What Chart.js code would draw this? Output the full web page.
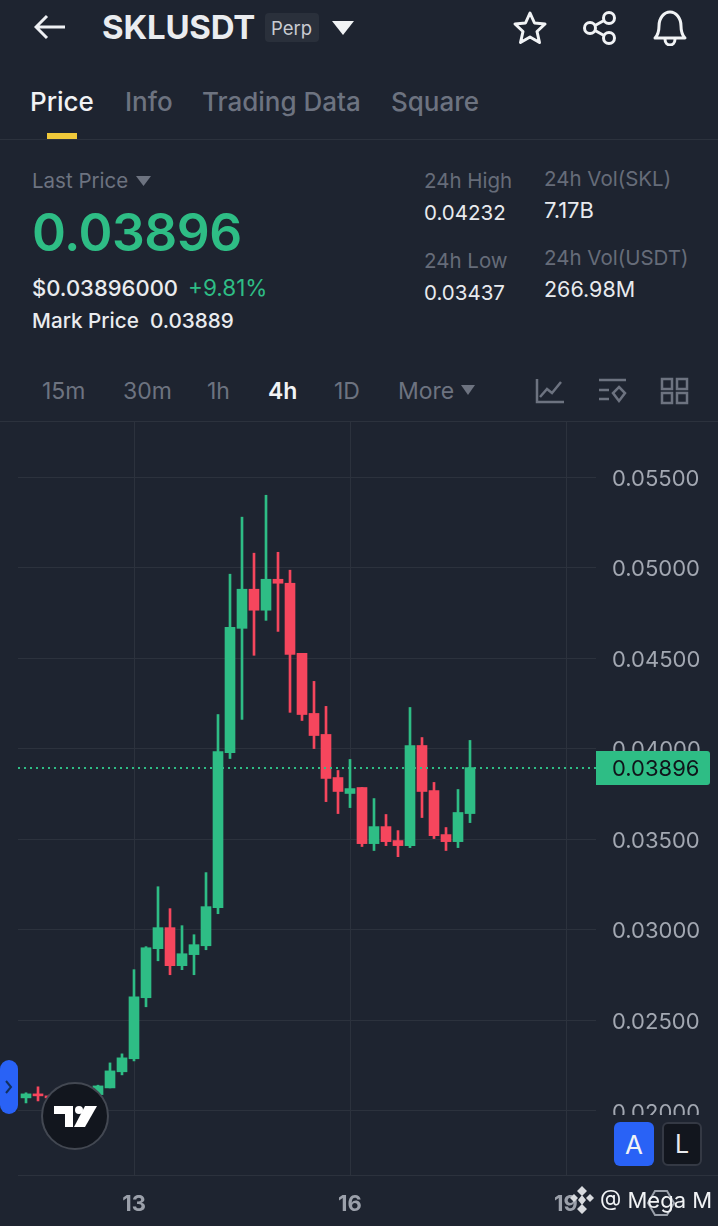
<!DOCTYPE html>
<html>
<head>
<meta charset="utf-8">
<title>SKLUSDT Perp</title>
<script src="https://cdn.jsdelivr.net/npm/chart.js@4"></script>
<style>
  html, body { margin: 0; padding: 0; background: #1e2430; }
  body { position: relative; width: 718px; height: 1226px; overflow: hidden; font-family: Inter, "Noto Sans", sans-serif; color: #eaecef; }
  canvas { position: absolute; left: 0; top: 421px; }
  .t { position: absolute; white-space: nowrap; transform: translateY(-50%); line-height: 1; }
  .grey { color: #6d7380; }
  .tab { font-size: 26px; font-weight: 500; color: #6d7380; top: 102px; }
  .tf { font-size: 23px; color: #6d7380; top: 391px; }
  .lbl { font-size: 20.5px; color: #666c79; }
  .val { font-size: 20.5px; color: #e8eaee; }
  svg, .box { position: absolute; }
</style>
</head>
<body>

<!-- header -->
<svg style="left:34px;top:14px" width="32" height="26" viewBox="0 0 32 26" fill="none" stroke="#eef0f3" stroke-width="3"><path d="M31 13H3M13 2L2 13l11 11"/></svg>
<div class="t" style="left:102px;top:27px;font-size:33px;font-weight:700;letter-spacing:-.2px">SKLUSDT</div>
<div class="box" style="left:265px;top:13px;width:54px;height:29px;background:#2a303b;border-radius:4px"></div>
<div class="t" style="left:271px;top:28px;font-size:18.5px;color:#c9ccd2">Perp</div>
<svg style="left:332px;top:20px" width="22" height="16"><path d="M0 1h22L11 15z" fill="#f1f3f5"/></svg>
<svg style="left:512px;top:10px" width="36" height="36" viewBox="0 0 36 36" fill="none" stroke="#f1f3f5" stroke-width="3" stroke-linejoin="round"><path d="M18 3l4.500 10 10.500 1-8 7.500 2.500 11L18 27l-9.500 5.500 2.500-11-8-7.500 10.500-1z"/></svg>
<svg style="left:582px;top:10px" width="36" height="36" viewBox="0 0 36 36" fill="none" stroke="#f1f3f5" stroke-width="3"><circle cx="8" cy="18" r="5.500"/><circle cx="27" cy="8" r="5.500"/><circle cx="27" cy="28" r="5.500"/><path d="M13 15.500l9-5M13 20.500l9 5"/></svg>
<svg style="left:652px;top:8px" width="36" height="38" viewBox="0 0 36 38" fill="none" stroke="#f1f3f5" stroke-width="3" stroke-linejoin="round"><path d="M3 30c3-3 4-6 4-12 0-8 5-14 11-14s11 6 11 14c0 6 1 9 4 12z"/><path d="M13 31c0 4 2.500 6 5 6s5-2 5-6"/></svg>

<div class="t tab" style="left:30px;color:#f1f3f5">Price</div>
<div class="t tab" style="left:125px">Info</div>
<div class="t tab" style="left:202px">Trading Data</div>
<div class="t tab" style="left:391px">Square</div>
<div class="box" style="left:47px;top:133px;width:30px;height:6px;background:#f0c93a"></div>
<div class="box" style="left:0;top:139px;width:718px;height:1px;background:#2c323d"></div>

<div class="t grey" style="left:32px;top:181px;font-size:20.5px">Last Price</div>
<svg style="left:136px;top:176px" width="15" height="10"><path d="M0 0h15L7.500 10z" fill="#6d7380"/></svg>
<div class="t" style="left:32px;top:233px;font-size:51.5px;font-weight:600;color:#2ebd85;letter-spacing:-.5px">0.03896</div>
<div class="t" style="left:32px;top:288px;font-size:22px;font-weight:500">$0.03896000</div>
<div class="t" style="left:188px;top:288px;font-size:22.5px;color:#2ebd85">+9.81%</div>
<div class="t" style="left:32px;top:321px;font-size:20.7px;font-weight:500">Mark Price&nbsp; 0.03889</div>

<div class="t lbl" style="left:424px;top:181px">24h High</div>
<div class="t val" style="left:424px;top:213px">0.04232</div>
<div class="t lbl" style="left:424px;top:261px">24h Low</div>
<div class="t val" style="left:424px;top:293px">0.03437</div>
<div class="t lbl" style="left:544px;top:179px">24h Vol(SKL)</div>
<div class="t val" style="left:544px;top:210px;font-size:22px">7.17B</div>
<div class="t lbl" style="left:544px;top:258px">24h Vol(USDT)</div>
<div class="t val" style="left:544px;top:290px;font-size:21.500px">266.98M</div>

<div class="t tf" style="left:42px">15m</div>
<div class="t tf" style="left:123px">30m</div>
<div class="t tf" style="left:207px">1h</div>
<div class="t tf" style="left:268px;color:#f1f3f5;font-weight:600">4h</div>
<div class="t tf" style="left:334px">1D</div>
<div class="t tf" style="left:398px">More</div>
<svg style="left:461px;top:385px" width="14" height="10"><path d="M0 0h14L7 10z" fill="#6d7380"/></svg>
<svg style="left:535px;top:376px" width="30" height="28" viewBox="0 0 30 28" fill="none" stroke="#6d7380" stroke-width="2.500"><path d="M2 3v23h27M5 21l7-8 5 4 9-11"/></svg>
<svg style="left:597px;top:377px" width="30" height="28" viewBox="0 0 30 28" fill="none" stroke="#6d7380" stroke-width="2.500"><path d="M2 3h27M2 13h10M2 22h10M22 10l6 6-6 8-6-8z"/></svg>
<svg style="left:660px;top:377px" width="29" height="28" viewBox="0 0 29 28" fill="none" stroke="#6d7380" stroke-width="2.500"><rect x="2" y="2" width="10" height="10"/><rect x="17" y="2" width="10" height="10"/><rect x="2" y="16" width="10" height="10"/><rect x="17" y="16" width="10" height="10"/></svg>

<div class="box" style="left:0;top:421px;width:718px;height:1px;background:#2c323d"></div>

<canvas id="klineChart" width="718" height="805"></canvas>

<!-- covers the bottom of the last price label like the app does -->
<div class="box" style="left:600px;top:1115px;width:118px;height:59px;background:#1e2430"></div>
<div class="box" style="left:18px;top:1175px;width:700px;height:1px;background:#2c323d"></div>

<!-- overlays on the chart -->
<div class="box" style="left:0;top:1060px;width:18px;height:54px;background:#2962f6;border-radius:9px"></div>
<svg style="left:5px;top:1080px" width="8" height="14" fill="none" stroke="#12305f" stroke-width="2"><path d="M1 1l5 6-5 6"/></svg>
<svg style="left:41px;top:1082px" width="68" height="68"><circle cx="34" cy="34" r="33" fill="#12161e" stroke="#434852" stroke-width="2"/><g fill="#fff"><path d="M13 24h19v21h-8V32H13z"/><circle cx="38" cy="28" r="4"/><path d="M44 24h12L44 45h-11z"/></g></svg>
<div class="box" style="left:614px;top:1122px;width:40px;height:44px;background:#2962f6;border-radius:6px"></div>
<div class="t" style="left:634px;top:1145px;font-size:26px;color:#f1f3f5;transform:translate(-50%,-50%)">A</div>
<div class="box" style="left:662px;top:1122px;background:#12161e;border:2px solid #343944;border-radius:6px;width:36px;height:40px"></div>
<div class="t" style="left:682px;top:1144px;font-size:25px;color:#e8eaee;transform:translate(-50%,-50%)">L</div>

<!-- watermark -->
<svg style="left:568px;top:1185px" width="28" height="30" viewBox="0 0 28 30" fill="#d8dade"><path d="M14 1l5 5-5 5-5-5zM6 9l4 4-4 4-4-4zM22 9l4 4-4 4-4-4zM14 10l4 5-4 5-4-5zM14 19l5 5-5 5-5-5z"/></svg>
<svg style="left:647px;top:1189px" width="28" height="28" viewBox="0 0 28 28" fill="none" stroke="#9aa0aa" stroke-width="2"><path d="M8 2h12l7 12-7 12H8L1 14z"/></svg>
<div class="t" style="left:600px;top:1200px;font-size:22px;color:#f1f3f5">@ Mega M</div>

<script>
// 4h candles, oldest first
const candleIndex = [0, 1, 2, 3, 4, 5, 6, 7, 8, 9, 10, 11, 12, 13, 14, 15, 16, 17, 18, 19, 20, 21, 22, 23, 24, 25, 26, 27, 28, 29, 30, 31, 32, 33, 34, 35, 36, 37];
const opens = [0.02072, 0.02094, 0.02083, 0.02072, 0.02078, 0.02086, 0.0209, 0.02127, 0.02216, 0.02288, 0.02625, 0.02896, 0.03012, 0.02802, 0.02863, 0.02912, 0.03122, 0.03979, 0.04665, 0.04881, 0.04765, 0.04936, 0.04914, 0.04527, 0.04195, 0.04079, 0.03841, 0.03753, 0.03786, 0.03476, 0.0357, 0.03493, 0.03465, 0.04018, 0.03769, 0.03526, 0.03487, 0.03642];
const closes = [0.02094, 0.02083, 0.02072, 0.02078, 0.02086, 0.0209, 0.02138, 0.02221, 0.02293, 0.0263, 0.02901, 0.03012, 0.02802, 0.02868, 0.02918, 0.03128, 0.03985, 0.04671, 0.04881, 0.04765, 0.04936, 0.04914, 0.04521, 0.04189, 0.04073, 0.03836, 0.03764, 0.0378, 0.03476, 0.0357, 0.03487, 0.03465, 0.04018, 0.03764, 0.0352, 0.03487, 0.03648, 0.03896];
const highs = [0.021, 0.02133, 0.0209, 0.02088, 0.02096, 0.02105, 0.02142, 0.02265, 0.02315, 0.0278, 0.02907, 0.03238, 0.03117, 0.03023, 0.02973, 0.03316, 0.04189, 0.04964, 0.05279, 0.0508, 0.054, 0.05085, 0.04986, 0.04527, 0.04372, 0.04234, 0.0388, 0.03941, 0.03786, 0.03725, 0.03637, 0.03548, 0.04228, 0.04062, 0.03814, 0.03565, 0.03775, 0.04046];
const lows = [0.02044, 0.02055, 0.02066, 0.02062, 0.0207, 0.02078, 0.02082, 0.02127, 0.02199, 0.02276, 0.02575, 0.02829, 0.02752, 0.0278, 0.02752, 0.0289, 0.03089, 0.03946, 0.04162, 0.04516, 0.04709, 0.04648, 0.04201, 0.04156, 0.04001, 0.03708, 0.03642, 0.03675, 0.0346, 0.03438, 0.03465, 0.03404, 0.03454, 0.0362, 0.03504, 0.03438, 0.03454, 0.03592];

const priceTicks = [0.02, 0.025, 0.03, 0.035, 0.04, 0.045, 0.05, 0.055];
const dayTickPositions = [9, 27, 45];
const dayTickLabels = ["13", "16", "19"];
const lastPrice = 0.03896;

const GREEN = "#2ebd85";
const RED = "#f6465d";
const GRID = "#2c323d";

const candleColors = opens.map((o, i) => (closes[i] >= o ? GREEN : RED));

// dotted last price line and the green tag on the axis
const lastPricePlugin = {
  id: "lastPrice",
  afterDraw(chart) {
    const c = chart.ctx;
    const y = Math.round(chart.scales.y.getPixelForValue(lastPrice));
    const area = chart.chartArea;
    c.save();
    c.strokeStyle = GREEN;
    c.lineWidth = 2;
    c.setLineDash([2, 4]);
    c.beginPath();
    c.moveTo(area.left, y);
    c.lineTo(area.right, y);
    c.stroke();
    c.setLineDash([]);
    c.fillStyle = GREEN;
    c.beginPath();
    c.roundRect(area.right, y - 17, 114, 34, [0, 3, 3, 0]);
    c.fill();
    c.fillStyle = "#10141a";
    c.font = "22px Inter";
    c.textBaseline = "middle";
    c.fillText(lastPrice.toFixed(5), 612, y + 1);
    c.restore();
  },
};

// the app's axes take no extra room for half a tick label
function noLabelPadding(axis) {
  axis.paddingTop = 0;
  axis.paddingBottom = 0;
  axis.paddingLeft = 0;
  axis.paddingRight = 0;
}

new Chart(document.getElementById("klineChart").getContext("2d"), {
  type: "bar",
  data: {
    datasets: [
      {
        data: candleIndex.map((x, i) => ({ x: x, y: [opens[i], closes[i]] })),
        backgroundColor: candleColors,
        barThickness: 10,
        grouped: false,
      },
      {
        data: candleIndex.map((x, i) => ({ x: x, y: [lows[i], highs[i]] })),
        backgroundColor: candleColors,
        barThickness: 2,
        grouped: false,
      },
    ],
  },
  plugins: [lastPricePlugin],
  options: {
    responsive: false,
    animation: false,
    layout: { padding: { left: 18, top: 0, right: 0, bottom: 0 } },
    plugins: { legend: { display: false }, tooltip: { enabled: false } },
    scales: {
      x: {
        type: "linear",
        offset: false,
        min: -0.667,
        max: 47.5,
        afterBuildTicks(axis) {
          axis.ticks = dayTickPositions.map((v) => ({ value: v }));
        },
        afterFit(axis) {
          axis.height = 51;
          noLabelPadding(axis);
        },
        grid: { color: GRID, drawTicks: false, offset: false },
        border: { display: false },
        ticks: {
          autoSkip: false,
          maxRotation: 0,
          padding: 16,
          color: "#9ba0aa",
          font: { family: "Inter", size: 22, weight: "700" },
          callback: (v) => dayTickLabels[dayTickPositions.indexOf(v)],
        },
      },
      y: {
        position: "right",
        min: 0.01646,
        max: 0.0581,
        afterBuildTicks(axis) {
          axis.ticks = priceTicks.map((v) => ({ value: v }));
        },
        afterFit(axis) {
          axis.width = 122;
          noLabelPadding(axis);
        },
        grid: { color: GRID, drawTicks: false },
        border: { display: false },
        ticks: {
          crossAlign: "near",
          padding: 16,
          labelOffset: 2,
          color: "#a3a8b2",
          font: { family: "Inter", size: 22 },
          callback: (v) => v.toFixed(5),
        },
      },
    },
  },
});
</script>
</body>
</html>
